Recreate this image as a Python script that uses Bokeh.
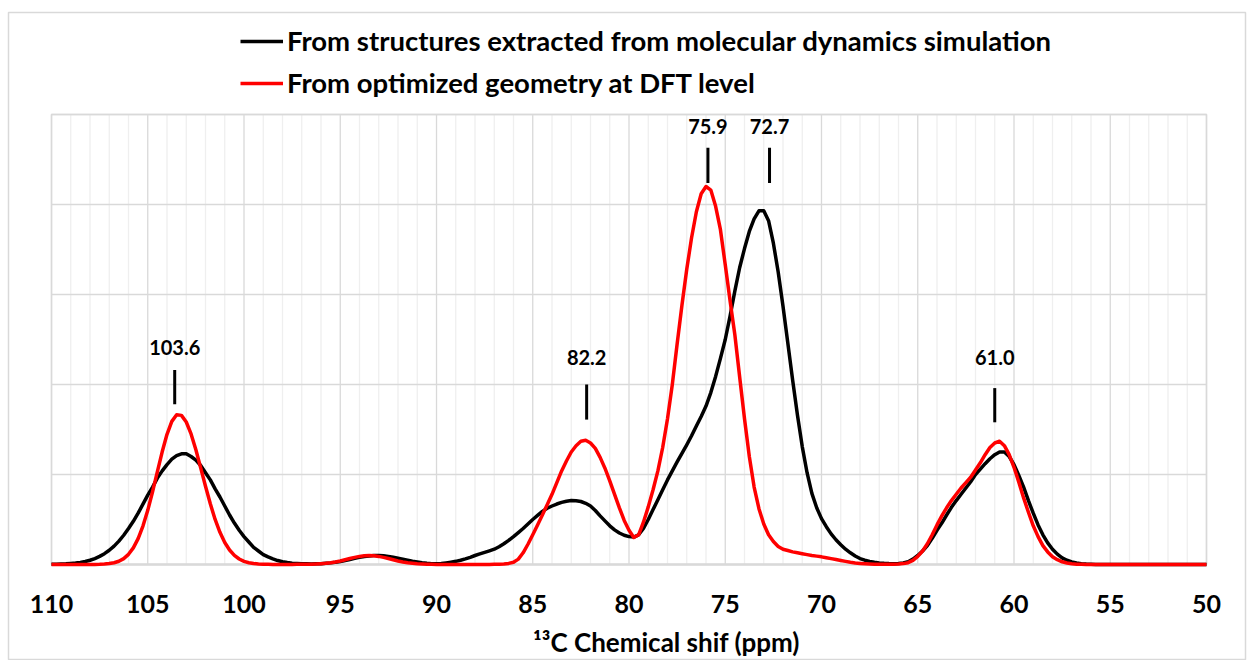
from bokeh.plotting import figure
from bokeh.models import (Range1d, Legend, LegendItem, Label, ColumnDataSource)
from bokeh.embed import file_html
from bokeh.resources import INLINE

# 13C chemical shift grid (ppm), 110 -> 50 in 0.25 ppm steps
shift_ppm = [110 - 0.25 * i for i in range(241)]

# Spectrum built from structures extracted from the MD simulation
# (one row per ppm: s, s-0.25, s-0.5, s-0.75)
md_intensity = [
    0.002, 0.003, 0.005, 0.007,   # 110
    0.011, 0.016, 0.023, 0.034,   # 109
    0.047, 0.066, 0.09, 0.12,     # 108
    0.158, 0.204, 0.26, 0.325,    # 107
    0.40, 0.48, 0.57, 0.67,       # 106
    0.77, 0.86, 0.96, 1.04,       # 105
    1.11, 1.17, 1.21, 1.23,       # 104
    1.23, 1.20, 1.16, 1.10,       # 103
    1.02, 0.94, 0.84, 0.75,       # 102
    0.65, 0.55, 0.46, 0.38,       # 101
    0.31, 0.25, 0.19, 0.15,       # 100
    0.11, 0.084, 0.062, 0.044,    # 99
    0.031, 0.022, 0.015, 0.011,   # 98
    0.008, 0.007, 0.006, 0.007,   # 97
    0.009, 0.013, 0.018, 0.025,   # 96
    0.034, 0.045, 0.056, 0.068,   # 95
    0.079, 0.088, 0.095, 0.099,   # 94
    0.10, 0.097, 0.09, 0.081,     # 93
    0.07, 0.058, 0.047, 0.036,    # 92
    0.027, 0.019, 0.013, 0.009,   # 91
    0.008, 0.011, 0.018, 0.026,   # 90
    0.035, 0.047, 0.062, 0.08,    # 89
    0.10, 0.118, 0.135, 0.152,    # 88
    0.17, 0.197, 0.23, 0.268,     # 87
    0.31, 0.355, 0.40, 0.45,      # 86
    0.50, 0.545, 0.59, 0.625,     # 85
    0.65, 0.672, 0.69, 0.703,     # 84
    0.71, 0.708, 0.70, 0.68,      # 83
    0.65, 0.60, 0.54, 0.485,      # 82
    0.43, 0.385, 0.35, 0.325,     # 81
    0.31, 0.305, 0.33, 0.40,      # 80
    0.50, 0.61, 0.72, 0.83,       # 79
    0.94, 1.04, 1.14, 1.235,      # 78
    1.33, 1.43, 1.54, 1.645,      # 77
    1.76, 1.91, 2.09, 2.29,       # 76
    2.50, 2.76, 3.04, 3.30,       # 75
    3.51, 3.70, 3.84, 3.93,       # 74
    3.93, 3.82, 3.57, 3.25,       # 73
    2.87, 2.46, 2.05, 1.66,       # 72
    1.31, 1.02, 0.79, 0.63,       # 71
    0.51, 0.42, 0.34, 0.275,      # 70
    0.22, 0.17, 0.13, 0.095,      # 69
    0.066, 0.048, 0.035, 0.025,   # 68
    0.018, 0.013, 0.01, 0.009,    # 67
    0.01, 0.017, 0.03, 0.06,      # 66
    0.10, 0.15, 0.21, 0.29,       # 65
    0.38, 0.46, 0.55, 0.635,      # 64
    0.71, 0.78, 0.85, 0.92,       # 63
    1.00, 1.06, 1.12, 1.175,      # 62
    1.22, 1.25, 1.25, 1.20,       # 61
    1.11, 0.99, 0.86, 0.71,       # 60
    0.57, 0.44, 0.33, 0.24,       # 59
    0.17, 0.115, 0.074, 0.047,    # 58
    0.028, 0.016, 0.009, 0.005,   # 57
    0.003, 0.001, 0.0, 0.0,       # 56
    0.0, 0.0, 0.0, 0.0,           # 55
    0.0, 0.0, 0.0, 0.0,           # 54
    0.0, 0.0, 0.0, 0.0,           # 53
    0.0, 0.0, 0.0, 0.0,           # 52
    0.0, 0.0, 0.0, 0.0,           # 51
    0.0,                          # 50
]

# Spectrum from the DFT-optimized geometry
dft_intensity = [
    0.0, 0.0, 0.0, 0.0,           # 110
    0.0, 0.0, 0.0, 0.0,           # 109
    0.0, 0.001, 0.002, 0.005,     # 108
    0.01, 0.019, 0.036, 0.065,    # 107
    0.113, 0.185, 0.288, 0.427,   # 106
    0.602, 0.808, 1.031, 1.252,   # 105
    1.447, 1.59, 1.663, 1.657,    # 104
    1.583, 1.451, 1.275, 1.074,   # 103
    0.869, 0.674, 0.501, 0.358,   # 102
    0.245, 0.161, 0.101, 0.061,   # 101
    0.035, 0.02, 0.011, 0.005,    # 100
    0.003, 0.002, 0.001, 0.001,   # 99
    0.001, 0.001, 0.001, 0.002,   # 98
    0.002, 0.003, 0.004, 0.006,   # 97
    0.009, 0.013, 0.019, 0.028,   # 96
    0.039, 0.052, 0.066, 0.079,   # 95
    0.09, 0.097, 0.10, 0.097,     # 94
    0.09, 0.079, 0.066, 0.052,    # 93
    0.039, 0.028, 0.019, 0.013,   # 92
    0.008, 0.005, 0.003, 0.002,   # 91
    0.001, 0.001, 0.0, 0.0,       # 90
    0.0, 0.0, 0.0, 0.0,           # 89
    0.0, 0.0, 0.001, 0.001,       # 88
    0.002, 0.003, 0.006, 0.012,   # 87
    0.025, 0.06, 0.13, 0.225,     # 86
    0.33, 0.44, 0.55, 0.665,      # 85
    0.78, 0.91, 1.04, 1.15,       # 84
    1.25, 1.32, 1.37, 1.38,       # 83
    1.35, 1.29, 1.19, 1.07,       # 82
    0.93, 0.78, 0.63, 0.49,       # 81
    0.38, 0.30, 0.33, 0.47,       # 80
    0.64, 0.83, 1.04, 1.30,       # 79
    1.62, 2.00, 2.45, 2.88,       # 78
    3.28, 3.63, 3.92, 4.12,       # 77
    4.20, 4.16, 3.98, 3.72,       # 76
    3.33, 2.93, 2.55, 2.08,       # 75
    1.62, 1.20, 0.86, 0.62,       # 74
    0.45, 0.33, 0.255, 0.20,      # 73
    0.17, 0.155, 0.14, 0.13,      # 72
    0.12, 0.11, 0.10, 0.093,      # 71
    0.085, 0.075, 0.065, 0.055,   # 70
    0.045, 0.035, 0.025, 0.017,   # 69
    0.012, 0.008, 0.005, 0.003,   # 68
    0.002, 0.002, 0.002, 0.003,   # 67
    0.005, 0.01, 0.02, 0.045,     # 66
    0.09, 0.15, 0.23, 0.33,       # 65
    0.44, 0.54, 0.63, 0.71,       # 64
    0.78, 0.85, 0.91, 0.97,       # 63
    1.05, 1.13, 1.22, 1.30,       # 62
    1.35, 1.37, 1.32, 1.22,       # 61
    1.08, 0.915, 0.74, 0.58,      # 60
    0.43, 0.31, 0.21, 0.14,       # 59
    0.086, 0.053, 0.03, 0.016,    # 58
    0.008, 0.004, 0.002, 0.001,   # 57
    0.0, 0.0, 0.0, 0.0,           # 56
    0.0, 0.0, 0.0, 0.0,           # 55
    0.0, 0.0, 0.0, 0.0,           # 54
    0.0, 0.0, 0.0, 0.0,           # 53
    0.0, 0.0, 0.0, 0.0,           # 52
    0.0, 0.0, 0.0, 0.0,           # 51
    0.0,                          # 50
]

series_names = [
    "From structures extracted from molecular dynamics simulation",
    "From optimized geometry at DFT level",
]

# Annotated peak positions (ppm)
peak_labels = ["103.6", "82.2", "75.9", "72.7", "61.0"]
peak_ppm = [103.6, 82.2, 75.9, 72.7, 61.0]

# Axis ticks and grid
x_ticks = list(range(50, 111, 5))
x_tick_labels = [str(t) for t in x_ticks]
x_minor = [t for t in range(50, 111) if t % 5]
y_grid = [1, 2, 3, 4, 5]
x_title = "\u00b9\u00b3C Chemical shif (ppm)"

FONT = "Lato"
GRID = "#d9d9d9"
MINOR = "#efefef"

# The frame spans the whole chart area; its outline is the chart border.
# Plot area: 110..50 ppm, 0..5 intensity units (19.25 px/ppm, 90 px/unit).
p = figure(width=1251, height=660,
           x_range=Range1d(112.234, 47.974), y_range=Range1d(-1.0667, 6.1333),
           output_backend="svg", toolbar_location=None,
           x_axis_location=None, y_axis_location=None,
           min_border_left=8, min_border_right=6,
           min_border_top=12, min_border_bottom=0)
p.background_fill_color = "white"
p.border_fill_color = "white"
p.outline_line_color = GRID
p.outline_line_width = 1.5
p.xgrid.visible = False
p.ygrid.visible = False

# gridlines of the plot area
p.segment(x0=x_minor, x1=x_minor, y0=0, y1=5, line_color=MINOR, line_width=1.3)
p.segment(x0=x_ticks, x1=x_ticks, y0=0, y1=5, line_color=GRID, line_width=1.3)
p.segment(x0=110, x1=50, y0=y_grid, y1=y_grid, line_color=GRID, line_width=1.5)
p.quad(left=110, right=50, bottom=0, top=5, fill_color=None,
       line_color=GRID, line_width=1.5)
p.line(x=[110, 50], y=[0, 0], line_color=GRID, line_width=2.5)

# tick labels
p.text(x=x_ticks, y=-0.44, text=x_tick_labels, text_align="center",
       text_baseline="middle", text_font={"value": FONT},
       text_font_style="bold", text_font_size="25px", text_color="black")

src = ColumnDataSource(dict(ppm=shift_ppm, md=md_intensity, dft=dft_intensity))
r_md = p.line("ppm", "md", source=src, line_color="black", line_width=3.5,
              line_join="round")
r_dft = p.line("ppm", "dft", source=src, line_color="#ff0000", line_width=3.5,
               line_join="round")

# peak markers and labels
label_y = [2.41, 2.30, 4.87, 4.87, 2.30]
tick_top = [2.16, 2.00, 4.63, 4.63, 1.96]
tick_bottom = [1.78, 1.61, 4.24, 4.24, 1.58]
p.segment(x0=peak_ppm, x1=peak_ppm, y0=tick_bottom, y1=tick_top,
          line_color="black", line_width=3)
for txt, xp, yp in zip(peak_labels, peak_ppm, label_y):
    p.add_layout(Label(x=xp, y=yp, text=txt, text_align="center",
                       text_baseline="middle", text_font=FONT,
                       text_font_style="bold", text_font_size="20px",
                       text_color="black"))

# x-axis title
p.add_layout(Label(x=78.05, y=-0.86, text=x_title,
                   text_align="center", text_baseline="middle", text_font=FONT,
                   text_font_style="bold", text_font_size="26px",
                   text_color="black"))

legend = Legend(items=[LegendItem(label=series_names[0], renderers=[r_md]),
                       LegendItem(label=series_names[1], renderers=[r_dft])],
                location=(232, 561), orientation="vertical",
                glyph_width=43, glyph_height=30, label_height=30,
                spacing=9, label_standoff=4, padding=0, margin=0,
                border_line_color=None, background_fill_alpha=0,
                label_text_font=FONT, label_text_font_style="bold",
                label_text_font_size="27.5px", label_text_color="black")
p.add_layout(legend, "center")

open("out.html", "w").write(file_html(p, INLINE))
